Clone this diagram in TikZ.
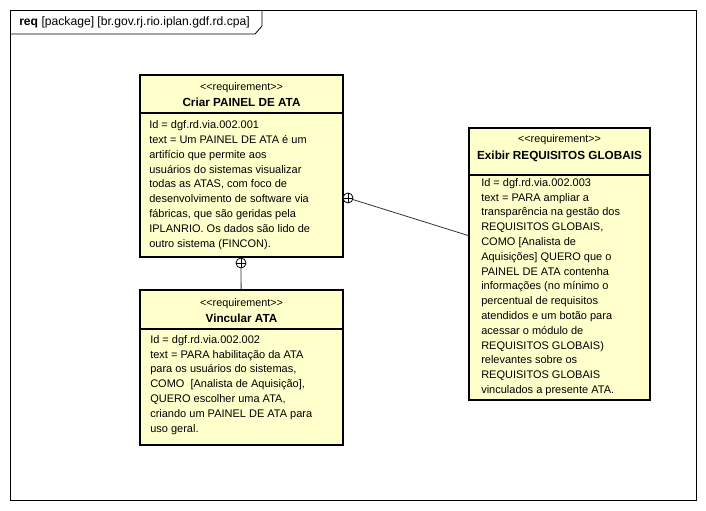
\documentclass[tikz,border=0pt]{standalone}
\usepackage{fontspec}
\setmainfont{Liberation Sans}[Ligatures=NoCommon]
\begin{document}
\begin{tikzpicture}[x=0.75pt,y=-0.75pt,
  req/.style={draw=black,line width=1.6pt,fill=reqfill,rectangle,inner sep=0pt},
  stereo/.style={font=\fontsize{8.1}{9}\selectfont,inner sep=0pt,anchor=center},
  rtitle/.style={font=\fontsize{8.8}{10}\selectfont\bfseries,inner sep=0pt,anchor=center},
  body/.style={font=\fontsize{8.25}{11.1}\selectfont,inner sep=0pt,anchor=north west,align=left},
  divider/.style={line width=0.8pt},
  conn/.style={line width=0.6pt,draw=black!80},
  own/.style={circle,draw=black,line width=0.6pt,minimum size=7.5pt,inner sep=0pt,fill=white}
]
\definecolor{reqfill}{HTML}{FFFFCC}
\useasboundingbox (0,0) rectangle (706,510);
% frame
\draw[line width=0.6pt] (10,10) rectangle (696,500);
\draw[line width=0.6pt] (10,34) -- (255,34) -- (262,26) -- (262,10);
\node[font=\fontsize{9.1}{10}\selectfont,anchor=west,inner sep=0pt] (ftitle) at (19,22) {\textbf{req} [package] [br.gov.rj.rio.iplan.gdf.rd.cpa]};

% box 1
\node[req,minimum width=152.25pt,minimum height=136.5pt] (b1) at (241.5,166) {};
\draw[divider] (140,113) -- (343,113);
\node[stereo] (b1s) at (241.5,87.5) {{<}{<}requirement{>}{>}};
\node[rtitle] (b1t) at (241.5,102.5) {Criar PAINEL DE ATA};
\node[body] (b1b) at (149,120.5) {Id = dgf.rd.via.002.001\\text = Um PAINEL DE ATA é um\\artifício que permite aos\\usuários do sistemas visualizar\\todas as ATAS, com foco de\\desenvolvimento de software via\\fábricas, que são geridas pela\\IPLANRIO. Os dados são lido de\\outro sistema (FINCON).};

% box 2
\node[req,minimum width=152.25pt,minimum height=116.25pt] (b2) at (241.5,367.5) {};
\draw[divider] (140,329) -- (343,329);
\node[stereo] (b2s) at (241.5,304) {{<}{<}requirement{>}{>}};
\node[rtitle] (b2t) at (241.5,318.5) {Vincular ATA};
\node[body] (b2b) at (150,335) {Id = dgf.rd.via.002.002\\text = PARA habilitação da ATA\\para os usuários do sistemas,\\COMO~ [Analista de Aquisição],\\QUERO escolher uma ATA,\\criando um PAINEL DE ATA para\\uso geral.};

% box 3
\node[req,minimum width=135.75pt,minimum height=204pt] (b3) at (559.5,264) {};
\draw[divider] (469,175) -- (650,175);
\node[stereo] (b3s) at (559.5,140) {{<}{<}requirement{>}{>}};
\node[rtitle] (b3t) at (559.5,156) {Exibir REQUISITOS GLOBAIS};
\node[body] (b3b) at (481,178) {Id = dgf.rd.via.002.003\\text = PARA ampliar a\\transparência na gestão dos\\REQUISITOS GLOBAIS,\\COMO [Analista de\\Aquisições] QUERO que o\\PAINEL DE ATA contenha\\informações (no mínimo o\\percentual de requisitos\\atendidos e um botão para\\acessar o módulo de\\REQUISITOS GLOBAIS)\\relevantes sobre os\\REQUISITOS GLOBAIS\\vinculados a presente ATA.};

% connectors
\node[own] (c1) at (241,263) {};
\draw[line width=0.6pt] (c1.north) -- (c1.south) (c1.west) -- (c1.east);
\draw[conn] (c1) -- (b2);
\node[own] (c2) at (348,198) {};
\draw[line width=0.6pt] (c2.north) -- (c2.south) (c2.west) -- (c2.east);
\draw[conn] (c2) -- (b3);
\end{tikzpicture}
\end{document}
